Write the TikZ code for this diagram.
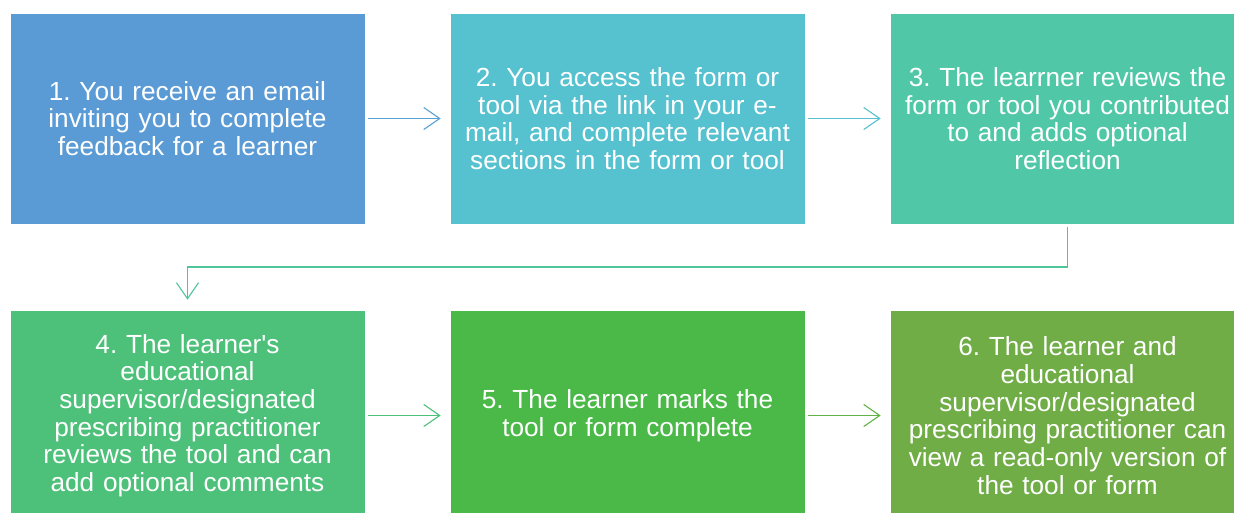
\documentclass[tikz,border=0pt]{standalone}
\usepackage{fontspec}
\setmainfont{Liberation Sans}
\usetikzlibrary{arrows.meta}
\definecolor{cA}{HTML}{5B9BD5}
\definecolor{cB}{HTML}{56C1CF}
\definecolor{cC}{HTML}{50C8A8}
\definecolor{cD}{HTML}{4DC17A}
\definecolor{cE}{HTML}{4AB948}
\definecolor{cF}{HTML}{70AD47}
\tikzset{
  stepbox/.style={rectangle, draw=white, line width=0.6pt, text=white,
    minimum width=355pt, minimum height=211pt, inner sep=0pt,
    text width=352pt, align=center,
    font=\fontsize{26.2}{27.7}\selectfont\frenchspacing},
  conn/.style={line width=1.1pt, -{Straight Barb[length=16pt,width=22pt,line width=1.1pt]}},
  hconn/.style={conn, shorten <=3pt, shorten >=9pt}
}
\begin{document}
\begin{tikzpicture}[x=1pt,y=1pt]
\useasboundingbox (0,0) rectangle (1234,-512);
\clip (0,0) rectangle (1234,-512);
\fill[white] (0,0) rectangle (1234,-512);

% first row
\node[stepbox, fill=cA] (b1) at (187.5,-118.5)
  {1. You receive an email\\inviting you to complete\\feedback for a learner};
\node[stepbox, fill=cB] (b2) at (627.5,-118.5)
  {2. You access the form or\\tool via the link in your e-\\mail, and complete relevant\\sections in the form or tool};
\node[stepbox, fill=cC] (b3) at (1067.5,-118.5)
  {3. The learrner reviews the\\form or tool you contributed\\to and adds optional\\reflection};

% second row
\node[stepbox, fill=cD] (b4) at (187.5,-415.5)
  {4. The learner\textquotesingle s\\educational\\supervisor/designated\\prescribing practitioner\\reviews the tool and can\\add optional comments};
\node[stepbox, fill=cE] (b5) at (627.5,-415.5)
  {5. The learner marks the\\tool or form complete};
\node[stepbox, fill=cF] (b6) at (1067.5,-415.5)
  {6. The learner and\\educational\\supervisor/designated\\prescribing practitioner can\\view a read-only version of\\the tool or form};

% connectors
\draw[hconn, draw=cA!85!cB] (b1) -- (b2);
\draw[hconn, draw=cB] (b2) -- (b3);
\coordinate (bend) at (1067.5,-267);
\draw[conn, draw=cC!70!cD, shorten >=10pt] ([yshift=-3pt]b3.south) -- (bend) -| (b4.north);
\draw[hconn, draw=cD] (b4) -- (b5);
\draw[hconn, draw=cE!40!cF] (b5) -- (b6);
\end{tikzpicture}
\end{document}
